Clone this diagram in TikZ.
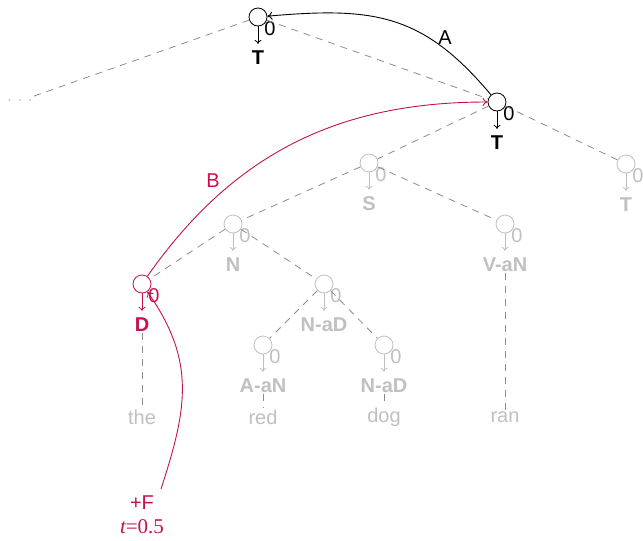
\documentclass[tikz,border=0pt]{standalone}
\usepackage{fontspec}
\setmainfont{Liberation Sans}
\newfontfamily\serifm{Liberation Serif}
\usetikzlibrary{arrows.meta}
\definecolor{crim}{RGB}{197,17,77}
\definecolor{faded}{RGB}{192,192,192}
\definecolor{dashc}{RGB}{140,140,140}
\tikzset{
  tnode/.style={circle, draw, fill=white, minimum size=18pt, inner sep=0pt, line width=0.8pt},
  zero/.style={font=\fontsize{20}{23}\selectfont, inner sep=0pt},
  lab/.style={font=\bfseries\fontsize{20}{23}\selectfont, inner sep=1pt},
  word/.style={font=\fontsize{20}{23}\selectfont, text=faded, inner sep=1pt},
  treeedge/.style={dashc, dash pattern=on 7pt off 6pt, line width=0.8pt},
  downarrow/.style={-{To[length=4pt,width=7pt]}, line width=0.8pt, shorten >=6pt},
  curvearrow/.style={-{To[length=5pt,width=8pt]}, line width=0.9pt},
  elabel/.style={font=\fontsize{20}{23}\selectfont, inner sep=0pt}
}
\newcommand\treenode[5]{%
  \node[tnode, draw=#5] (#1) at (#2,#3) {};
  \node[zero, text=#5] (#1z) at (#2+12,#3+12) {0};
  \node[lab, text=#5] (#1l) at (#2,#3+41) {#4};
  \draw[downarrow, #5] (#1.south) -- (#1l.north);
}
\begin{document}
\begin{tikzpicture}[x=1pt,y=-1pt]
\useasboundingbox (0,0) rectangle (643,541);
% nodes
\treenode{R}{258}{17}{T}{black}
\treenode{Tb}{497}{102}{T}{black}
\treenode{S}{369}{163}{S}{faded}
\treenode{Tc}{626}{164}{T}{faded}
\treenode{N}{233}{224}{N}{faded}
\treenode{V}{505}{224}{V-aN}{faded}
\treenode{D}{142}{284}{D}{crim}
\treenode{Na}{324}{284}{N-aD}{faded}
\treenode{A}{263}{345}{A-aN}{faded}
\treenode{Nb}{384}{345}{N-aD}{faded}
\node[text=faded, font=\fontsize{16}{18}\selectfont, inner sep=2pt] (dots) at (20,101) {. . .};
% words
\node[word] (w1) at (142,417) {the};
\node[word] (w2) at (263,417) {red};
\node[word] (w3) at (384,417) {dog};
\node[word] (w4) at (505,417) {ran};
% tree edges
\draw[treeedge] (R) -- (dots);
\draw[treeedge] (R) -- (Tb);
\draw[treeedge] (Tb) -- (S);
\draw[treeedge] (Tb) -- (Tc);
\draw[treeedge] (S) -- (N);
\draw[treeedge] (S) -- (V);
\draw[treeedge] (N) -- (D);
\draw[treeedge] (N) -- (Na);
\draw[treeedge] (Na) -- (A);
\draw[treeedge] (Na) -- (Nb);
\draw[treeedge] (Dl) -- (w1);
\draw[treeedge] (Al) -- (w2);
\draw[treeedge] (Nbl) -- (w3);
\draw[treeedge] (Vl) -- (w4);
% curved arcs
\draw[curvearrow, black] (Tb) to[out=130, in=5, looseness=1.15] (R);
\node[elabel] (lA) at (445,38) {A};
\draw[curvearrow, crim] (D) to[out=55, in=180] (Tb);
\node[elabel, text=crim] (lB) at (213,181) {B};
\node[elabel, text=crim] (F) at (142,503) {+F};
\node[elabel, text=crim, font=\serifm\fontsize{21}{24}\selectfont] (tl) at (142,527) {\itshape t\upshape =0.5};
\coordinate (Fc) at (161,489);
\draw[curvearrow, crim] (Fc) to[out=72, in=-55, looseness=1.1] (D);
\end{tikzpicture}
\end{document}
